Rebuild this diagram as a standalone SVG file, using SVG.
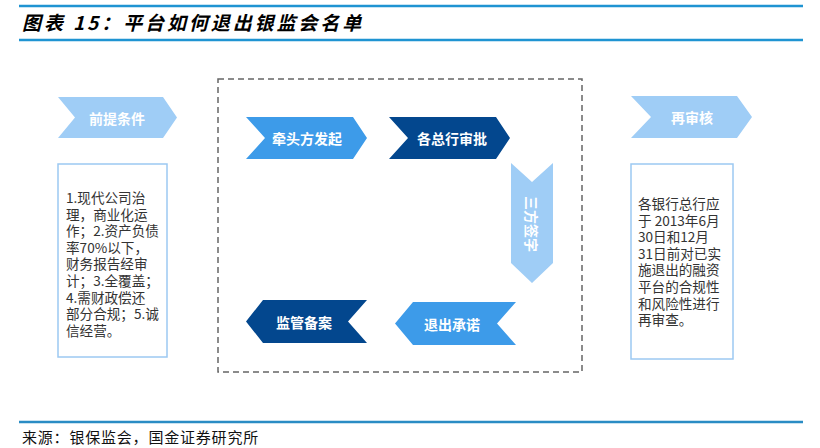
<svg xmlns="http://www.w3.org/2000/svg" width="820" height="448" viewBox="0 0 820 448">
<style>
.rule{stroke:#1f94d2;stroke-width:2.5}
.lbl{font-family:"Noto Sans CJK SC","Noto Sans",sans-serif;font-size:14px;font-weight:bold;fill:#fff;text-anchor:middle;dominant-baseline:central}
.body{font-family:"Noto Sans CJK SC","Noto Sans",sans-serif;font-size:13.6px;fill:#333}
.box{fill:#fff;stroke:#9cc9f2;stroke-width:1.5}
.light{fill:#9fcdf6}
.mid{fill:#3d9be9}
.dark{fill:#03478e}
</style>
<rect width="820" height="448" fill="#fff"/>
<line class="rule" x1="19" y1="6" x2="803" y2="6"/>
<line class="rule" x1="19" y1="40" x2="803" y2="40"/>
<text x="22" y="30" font-family="Noto Sans CJK SC,sans-serif" font-size="19" font-weight="bold" font-style="italic" letter-spacing="2.9" fill="#000">图表 15：平台如何退出银监会名单</text>

<g id="frame"><rect x="218" y="79" width="364" height="293" fill="none" stroke="#666" stroke-width="1.5" stroke-dasharray="6,4"/></g>

<g id="pre">
<polygon class="light" points="58,97 163,97 177,117.5 163,138 58,138 75,117.5"/>
<text class="lbl" x="117" y="117.5">前提条件</text>
</g>
<g id="pre-box">
<rect class="box" x="58" y="164" width="109" height="193"/>
<text class="body"><tspan x="66" y="203">1.现代公司治</tspan><tspan x="66" y="219.6">理，商业化运</tspan><tspan x="66" y="236.2">作；2.资产负债</tspan><tspan x="66" y="252.8">率70%以下，</tspan><tspan x="66" y="269.4">财务报告经审</tspan><tspan x="66" y="286">计；3.全覆盖；</tspan><tspan x="66" y="302.6">4.需财政偿还</tspan><tspan x="66" y="319.2">部分合规；5.诚</tspan><tspan x="66" y="335.8">信经营。</tspan></text>
</g>

<g id="step1">
<polygon class="mid" points="246,117 353,117 367,138 353,159 246,159 265,138"/>
<text class="lbl" x="307" y="138">牵头方发起</text>
</g>
<g id="step2">
<polygon class="dark" points="389,117 496,117 510,138 496,159 389,159 408,138"/>
<text class="lbl" x="452" y="138">各总行审批</text>
</g>
<g id="step3">
<polygon class="light" points="511,163 532,182 553,163 553,263 532,283 511,263"/>
<text class="lbl" x="0" y="0" transform="translate(532,224) rotate(90)">三方签字</text>
</g>
<g id="step4">
<polygon class="mid" points="516,302 413,302 395,323.5 413,345 516,345 497,323.5"/>
<text class="lbl" x="452" y="323.5">退出承诺</text>
</g>
<g id="step5">
<polygon class="dark" points="367,300 263,300 246,321.5 263,343 367,343 348,321.5"/>
<text class="lbl" x="304" y="321.5">监管备案</text>
</g>

<g id="review">
<polygon class="light" points="631,96 737,96 752,117 737,138 631,138 651,117"/>
<text class="lbl" x="692" y="117">再审核</text>
</g>
<g id="review-box">
<rect class="box" x="631" y="164" width="102" height="195"/>
<text class="body"><tspan x="638" y="209">各银行总行应</tspan><tspan x="638" y="225.6">于 2013年6月</tspan><tspan x="638" y="242.2">30日和12月</tspan><tspan x="638" y="258.8">31日前对已实</tspan><tspan x="638" y="275.4">施退出的融资</tspan><tspan x="638" y="292">平台的合规性</tspan><tspan x="638" y="308.6">和风险性进行</tspan><tspan x="638" y="325.2">再审查。</tspan></text>
</g>

<g id="connectors"></g>

<line x1="19" y1="422" x2="803" y2="422" stroke="#2a8cc4" stroke-width="2.5"/>
<text x="22" y="443" font-family="Noto Sans CJK SC,sans-serif" font-size="15" letter-spacing="0.8" fill="#111">来源：银保监会，国金证券研究所</text>
</svg>
